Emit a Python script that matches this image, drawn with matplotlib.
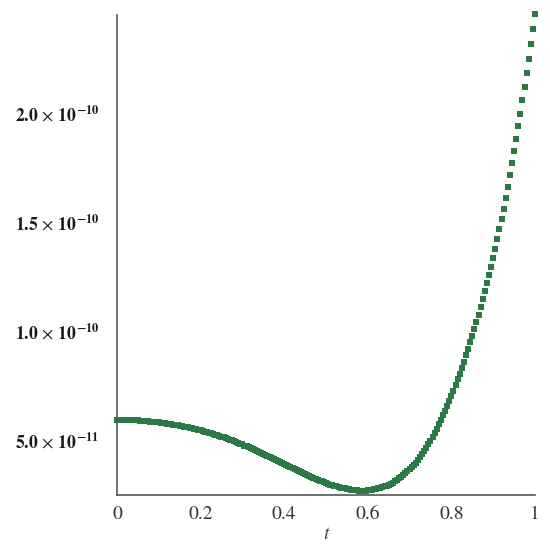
import numpy as np
import matplotlib
matplotlib.use('Agg')
import matplotlib.pyplot as plt

# curve values, in units of 1e-11, sampled every 0.005 in t
t_step = 0.005
vals = [
    5.92, 5.92, 5.92, 5.92, 5.92, 5.91, 5.91, 5.91, 5.90, 5.90,
    5.90, 5.89, 5.88, 5.88, 5.87, 5.86, 5.85, 5.84, 5.83, 5.82,
    5.81, 5.79, 5.78, 5.77, 5.75, 5.74, 5.72, 5.71, 5.69, 5.67,
    5.66, 5.64, 5.62, 5.60, 5.58, 5.56, 5.54, 5.52, 5.49, 5.47,
    5.45, 5.42, 5.39, 5.37, 5.34, 5.31, 5.28, 5.25, 5.22, 5.19,
    5.16, 5.12, 5.09, 5.06, 5.02, 4.99, 4.95, 4.91, 4.87, 4.83,
    4.80, 4.75, 4.71, 4.67, 4.63, 4.59, 4.54, 4.50, 4.46, 4.41,
    4.37, 4.32, 4.27, 4.23, 4.18, 4.13, 4.09, 4.04, 3.99, 3.94,
    3.90, 3.85, 3.80, 3.75, 3.71, 3.66, 3.61, 3.57, 3.52, 3.47,
    3.43, 3.39, 3.34, 3.30, 3.26, 3.22, 3.18, 3.14, 3.10, 3.07,
    3.03, 3.00, 2.96, 2.93, 2.90, 2.87, 2.85, 2.82, 2.80, 2.78,
    2.75, 2.74, 2.72, 2.71, 2.69, 2.69, 2.68, 2.68, 2.68, 2.68,
    2.69, 2.70, 2.72, 2.74, 2.76, 2.78, 2.81, 2.84, 2.87, 2.91,
    2.95, 3.00, 3.05, 3.11, 3.17, 3.24, 3.31, 3.39, 3.47, 3.56,
    3.65, 3.75, 3.86, 3.97, 4.09, 4.22, 4.36, 4.50, 4.65, 4.81,
    4.98, 5.15, 5.33, 5.52, 5.72, 5.92, 6.13, 6.34, 6.56, 6.79,
    7.03, 7.27, 7.52, 7.78, 8.05, 8.32, 8.60, 8.88, 9.18, 9.48,
    9.79, 10.10, 10.43, 10.76, 11.10, 11.45, 11.82, 12.19, 12.57, 12.96,
    13.36, 13.78, 14.22, 14.67, 15.14, 15.62, 16.12, 16.63, 17.15, 17.69,
    18.24, 18.81, 19.39, 19.98, 20.59, 21.21, 21.85, 22.50, 23.16, 23.84,
    24.53,
]
scale = 1e-11

x_ticks = [0, 0.2, 0.4, 0.6, 0.8, 1]
x_ticklabels = ['0', '0.2', '0.4', '0.6', '0.8', '1']
y_ticks = [5e-11, 1e-10, 1.5e-10, 2e-10]
y_ticklabels = [r'$\mathbf{5.0}\,\times\,\mathbf{10^{-11}}$', r'$\mathbf{1.0}\,\times\,\mathbf{10^{-10}}$',
                r'$\mathbf{1.5}\,\times\,\mathbf{10^{-10}}$', r'$\mathbf{2.0}\,\times\,\mathbf{10^{-10}}$']

plt.rcParams['mathtext.fontset'] = 'stix'
plt.rcParams['font.family'] = ['STIXGeneral', 'DejaVu Sans']

t = np.arange(len(vals)) * t_step
y = np.array(vals) * scale

fig = plt.figure(figsize=(5.5, 5.5), dpi=100)
ax = fig.add_axes([0.2127, 0.1, 0.76, 0.8727])

ax.plot(t, y, 's', color='#2b7a45', markersize=5.0, markeredgewidth=0, clip_on=False)

ax.set_xlim(0, 1)
ax.set_ylim(2.48e-11, 2.45e-10)

for side in ['top', 'right']:
    ax.spines[side].set_visible(False)
for side in ['left', 'bottom']:
    ax.spines[side].set_color('#555555')
    ax.spines[side].set_linewidth(1.2)

ax.set_xticks(x_ticks)
ax.set_xticklabels(x_ticklabels, fontsize=14)
ax.set_yticks(y_ticks)
ax.set_yticklabels(y_ticklabels, fontsize=12.8)
ax.tick_params(axis='x', length=0, pad=8, colors='#333333')
ax.tick_params(axis='y', length=0, pad=13, colors='#1a1a1a')

ax.set_xlabel('t', fontsize=14, style='italic', color='#444444', labelpad=1)

plt.savefig('out.png', dpi=100)
